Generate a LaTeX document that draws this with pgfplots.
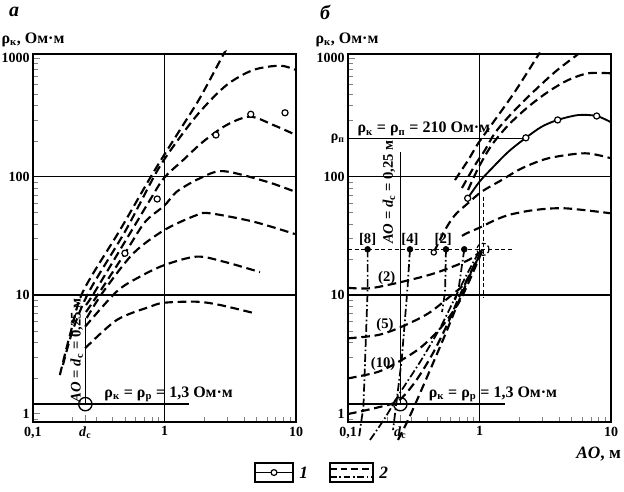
\documentclass[border=0pt]{standalone}
\usepackage{fontspec}
\setmainfont{Liberation Serif}[UprightFont={* Bold},ItalicFont={* Bold Italic}]
\usepackage{pgfplots}
\pgfplotsset{compat=1.18}

\tikzset{
  vd/.style={line width=1.6pt, dash pattern=on 6.5pt off 3.5pt},
  vdd/.style={line width=1.3pt, dash pattern=on 6pt off 2pt on 1.2pt off 2pt},
  grd/.style={line width=1pt},
}

\begin{document}
\begin{tikzpicture}[font=\fontsize{11}{13}\selectfont]
\useasboundingbox (0,0) rectangle (468pt,369pt);

% ---------- panel a ----------
\begin{axis}[
    at={(24.75pt,52.5pt)}, anchor=south west,
    scale only axis, width=197.25pt, height=276pt,
    xmode=log, ymode=log,
    xmin=0.1, xmax=10, ymin=0.848, ymax=1081,
    clip=false,
    axis line style={line width=1.3pt},
    tick pos=left, tick align=inside,
    major tick length=5pt, minor tick length=3.5pt,
    xtick={0.1,0.25,1,10},
    xticklabels={{0,1},{\textit{d}\textsubscript{с}},1,10},
    minor xtick={0.2,0.3,0.4,0.5,0.6,0.7,0.8,0.9,2,3,4,5,6,7,8,9},
    ytick={1,10,100,1000}, yticklabels={1,10,100,1000},
    minor ytick={0.9,2,3,4,5,6,7,8,9,20,30,40,50,60,70,80,90,200,300,400,500,600,700,800,900},
    tick label style={font=\fontsize{10.5}{12}\selectfont},
    yticklabel style={xshift=1pt},
  ]
  \draw[grd] (axis cs:1,0.848) -- (axis cs:1,1081);
  \draw[grd] (axis cs:0.1,10) -- (axis cs:10,10);
  \draw[grd] (axis cs:0.1,100) -- (axis cs:10,100);

  \addplot[vd, smooth, tension=0.5] coordinates {(0.160,2.11)(0.191,4.6)(0.24,10.7)(0.459,35.4)(0.818,107)(1.31,247)(1.86,460)(2.79,1060)(2.83,1081)};
  \addplot[vd, smooth, tension=0.5] coordinates {(0.169,2.57)(0.201,5.07)(0.267,10.7)(0.509,35.4)(0.873,110)(1.24,197)(1.86,352)(2.97,592)(4.73,792)(7.55,861)(10,792)};
  \addplot[vd, smooth, tension=0.5] coordinates {(0.253,8.23)(0.296,10.7)(0.566,35.4)(0.776,63.4)(0.991,97.1)(1.39,138)(1.97,197)(2.97,272)(4.47,320)(6.72,272)(10,224)};
  \addplot[vd, smooth, tension=0.5] coordinates {(0.253,7.19)(0.323,10.7)(0.50,22.5)(0.711,41.3)(1.0,56.9)(1.24,74.5)(1.86,96.6)(2.8,111)(5.99,90.4)(9.8,74.5)};
  \addplot[vd, smooth, tension=0.5] coordinates {(0.256,6.4)(0.343,10.7)(0.58,22.5)(1.0,35.4)(1.76,47.3)(2.22,48.9)(4.74,41.6)(9.8,32.7)};
  \addplot[vd, smooth, tension=0.5] coordinates {(0.249,5.4)(0.433,10.7)(0.652,14.3)(1.0,17.9)(1.76,21.1)(2.88,19.0)(5.32,15.6)};
  \addplot[vd, smooth, tension=0.5] coordinates {(0.249,3.55)(0.433,6.15)(0.776,7.97)(1.0,8.61)(1.76,8.78)(2.64,8.24)(4.88,7.0)};

  \addplot[only marks, mark=*, mark size=2.3pt, mark options={fill=white, draw=black, line width=0.9pt}] coordinates {(0.50,22.5)(0.88,64.6)(2.46,224)(4.53,335)(8.25,345)};

  \addplot[line width=1pt] coordinates {(0.25,1.2)(0.25,6.4)};
  \addplot[line width=1pt] coordinates {(0.1,1.2)(1.53,1.2)};
  \addplot[only marks, mark=o, mark size=5pt, mark options={line width=1pt}] coordinates {(0.25,1.2)};

  \node[anchor=south west, inner sep=1pt, font=\fontsize{12}{13}\selectfont] at (axis cs:0.34,1.22) {ρ\textsubscript{к} = ρ\textsubscript{р} = 1,3 Ом·м};
  \node[rotate=90, inner sep=0pt] at (axis cs:0.215,3.4) {\textit{AO} = \textit{d}\textsubscript{с} = 0,25 м};
\end{axis}

% ---------- panel b ----------
\begin{axis}[
    at={(261pt,52.5pt)}, anchor=south west,
    scale only axis, width=197.25pt, height=276pt,
    xmode=log, ymode=log,
    xmin=0.1, xmax=10, ymin=0.848, ymax=1081,
    clip=false,
    axis line style={line width=1.3pt},
    tick pos=left, tick align=inside,
    major tick length=5pt, minor tick length=3.5pt,
    xtick={0.1,0.25,1,10},
    xticklabels={{0,1},{\textit{d}\textsubscript{с}},1,10},
    minor xtick={0.2,0.3,0.4,0.5,0.6,0.7,0.8,0.9,2,3,4,5,6,7,8,9},
    ytick={1,10,100,210,1000}, yticklabels={1,10,100,{ρ\textsubscript{п}},1000},
    minor ytick={0.9,2,3,4,5,6,7,8,9,20,30,40,50,60,70,80,90,300,400,500,600,700,800,900},
    tick label style={font=\fontsize{10.5}{12}\selectfont},
    yticklabel style={xshift=1pt},
  ]
  \draw[grd] (axis cs:1,0.848) -- (axis cs:1,1081);
  \draw[grd] (axis cs:0.1,10) -- (axis cs:10,10);
  \draw[grd] (axis cs:0.1,100) -- (axis cs:10,100);

  % measured curve 1
  \addplot[line width=1.4pt, smooth, tension=0.5] coordinates {(0.813,65.5)(1.0,90.4)(1.24,117)(1.66,162)(2.25,212)(2.97,263)(3.93,300)(5.64,330)(7.78,324)(10,287)};
  \addplot[only marks, mark=*, mark size=2.3pt, mark options={fill=white, draw=black, line width=0.9pt}] coordinates {(0.813,65.5)(2.25,212)(3.93,300)(7.78,324)};

  % theoretical curves 2
  \addplot[vd, smooth, tension=0.5] coordinates {(0.651,93.4)(0.822,138)(0.979,191)(1.31,300)(1.86,520)(2.80,1060)(2.83,1081)};
  \addplot[vd, smooth, tension=0.5] coordinates {(0.736,80)(0.925,125)(1.10,167)(1.31,233)(1.71,330)(2.42,487)(3.75,762)(5.51,1060)(5.64,1081)};
  \addplot[vd, smooth, tension=0.5] coordinates {(0.818,76.9)(0.979,118)(1.238,184)(1.66,272)(2.35,388)(3.34,520)(4.73,652)(6.71,743)(10,743)};
  \addplot[vd, smooth, tension=0.5] coordinates {(0.449,22.9)(0.547,35.4)(0.651,47.3)(0.822,59.8)(1.039,74.5)(1.475,93.4)(2.09,117)(3.34,142.5)(6.34,157)(10,142.5)};
  \addplot[vd, smooth, tension=0.5] coordinates {(0.736,31.5)(0.799,33.2)(1.039,37.7)(1.238,41.6)(1.66,47.3)(2.64,52.2)(4.47,53.9)(10,48.9)};

  % curves (2), (5), (10)
  \addplot[vd, smooth, tension=0.5] coordinates {(0.1,11.5)(0.147,11.4)(0.256,12.9)(0.459,15.3)(0.822,19.7)(1.063,24.3)};
  \addplot[vd, smooth, tension=0.5] coordinates {(0.1,4.31)(0.170,4.6)(0.256,5.4)(0.408,7.0)(0.615,10)(0.776,12.6)(0.925,18.5)(1.063,24.3)};
  \addplot[vd, smooth, tension=0.5] coordinates {(0.1,1.98)(0.170,2.25)(0.256,2.83)(0.363,3.66)(0.516,5.4)(0.691,8.51)(0.822,12.6)(0.979,19.7)(1.063,24.3)};

  % steep lines from below
  \addplot[vd, smooth, tension=0.5] coordinates {(0.1,0.99)(0.160,1.11)(0.240,1.275)(0.323,1.84)(0.435,3.12)(0.566,5.58)(0.711,10)(0.877,16.3)(1.063,24.0)};
  \addplot[vdd, smooth, tension=0.5] coordinates {(0.147,0.598)(0.191,0.916)(0.248,1.49)(0.353,2.72)(0.501,5.27)(0.651,9.43)(0.818,15.6)(1.009,24.0)};
  \addplot[vd, smooth, tension=0.5] coordinates {(0.240,0.598)(0.286,0.881)(0.340,1.35)(0.421,2.33)(0.547,4.6)(0.687,8.56)(0.847,14.7)(1.027,23.1)};

  % [8], [4], [2]
  \addplot[vdd] coordinates {(0.141,24.3)(0.141,11)(0.131,1.14)(0.121,0.62)};
  \addplot[vdd] coordinates {(0.296,24.3)(0.284,11.7)(0.256,2.83)(0.234,1.26)(0.22,0.725)};
  \addplot[vdd] coordinates {(0.556,24.3)(0.547,10.6)(0.519,7.19)};
  \addplot[vdd] coordinates {(0.766,24.3)(0.691,11.0)(0.651,9.07)};
  \addplot[line width=0.9pt, densely dashed] coordinates {(0.1,24.3)(1.76,24.3)};
  \addplot[line width=0.9pt, densely dashed] coordinates {(1.07,67.6)(1.07,9.4)};
  \addplot[only marks, mark=*, mark size=2.2pt] coordinates {(0.141,24.3)(0.296,24.3)(0.556,24.3)(0.766,24.3)};
  \addplot[only marks, mark=*, mark size=2pt, mark options={fill=white, draw=black, line width=0.9pt}] coordinates {(0.449,22.9)};
  \addplot[only marks, mark=o, mark size=4.5pt, mark options={line width=0.9pt, densely dashed}] coordinates {(1.063,24.3)};

  \addplot[line width=1pt] coordinates {(0.25,1.2)(0.25,161)};
  \addplot[line width=1pt] coordinates {(0.1,210)(2.14,210)};
  \addplot[line width=1pt] coordinates {(0.1,1.2)(1.56,1.2)};
  \addplot[only marks, mark=o, mark size=5pt, mark options={line width=1pt}] coordinates {(0.25,1.2)};

  \node[anchor=south west, inner sep=1pt, font=\fontsize{12}{13}\selectfont] at (axis cs:0.115,212) {ρ\textsubscript{к} = ρ\textsubscript{п} = 210 Ом·м};
  \node[anchor=south west, inner sep=1pt, font=\fontsize{12}{13}\selectfont] at (axis cs:0.40,1.22) {ρ\textsubscript{к} = ρ\textsubscript{р} = 1,3 Ом·м};
  \node[rotate=90, inner sep=0pt] at (axis cs:0.205,74) {\textit{AO} = \textit{d}\textsubscript{с} = 0,25 м};
  \node[anchor=south, inner sep=2pt] at (axis cs:0.141,24.8) {[8]};
  \node[anchor=south, inner sep=2pt] at (axis cs:0.296,24.8) {[4]};
  \node[anchor=south, inner sep=2pt] at (axis cs:0.53,24.8) {[2]};
  \node at (axis cs:0.197,13.8) {(2)};
  \node at (axis cs:0.191,5.6) {(5)};
  \node at (axis cs:0.185,2.6) {(10)};
\end{axis}

% ---------- outside labels ----------
\node[font=\fontsize{15}{15}\selectfont\itshape] at (10.5pt,360pt) {а};
\node[font=\fontsize{15}{15}\selectfont\itshape] at (243.75pt,360pt) {б};
\node[font=\fontsize{12}{13}\selectfont] at (24.75pt,339pt) {ρ\textsubscript{к}, Ом·м};
\node[font=\fontsize{12}{13}\selectfont] at (260.25pt,339pt) {ρ\textsubscript{к}, Ом·м};
\node[font=\fontsize{13}{14}\selectfont] at (449pt,28.5pt) {\textit{AO}, м};

% legend
\draw[line width=1pt] (191.25pt,7.5pt) rectangle (219.75pt,21.75pt);
\draw[line width=1pt] (191.25pt,14.6pt) -- (219.75pt,14.6pt);
\draw[line width=0.9pt, fill=white] (205.5pt,14.6pt) circle (2.2pt);
\node[anchor=west, font=\fontsize{13}{14}\selectfont\itshape] at (221pt,14.6pt) {1};
\draw[line width=1pt] (247.5pt,7.5pt) rectangle (279.75pt,21.75pt);
\draw[line width=1.3pt, dash pattern=on 5pt off 3pt] (247.5pt,17.25pt) -- (279.75pt,17.25pt);
\draw[line width=1.3pt, dash pattern=on 5pt off 2pt on 1.2pt off 2pt] (247.5pt,11.25pt) -- (279.75pt,11.25pt);
\node[anchor=west, font=\fontsize{13}{14}\selectfont\itshape] at (281pt,14.6pt) {2};
\end{tikzpicture}
\end{document}
